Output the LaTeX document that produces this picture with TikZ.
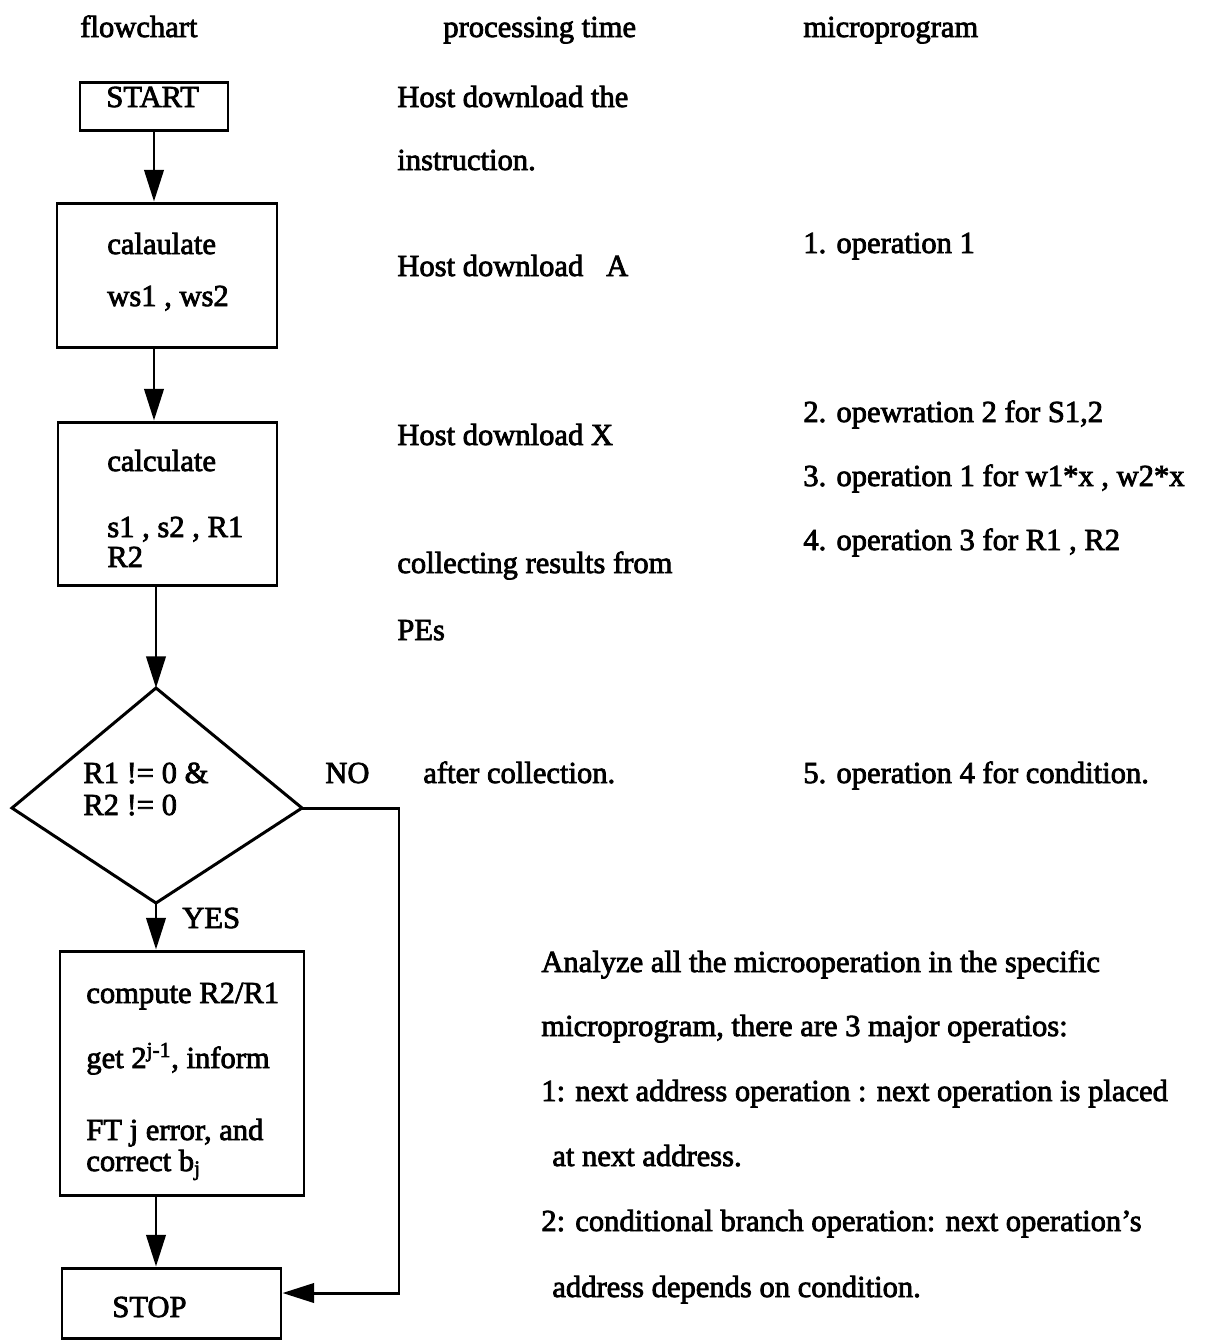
\documentclass[tikz,border=0pt]{standalone}
\usepackage{fontspec}
\setmainfont{Liberation Serif}[RawFeature={embolden=2.5}]
\usetikzlibrary{arrows.meta,fit}
\begin{document}
\begin{tikzpicture}[x=0.02cm,y=-0.02cm,
  box/.style={draw,line width=1.7pt,inner sep=0pt},
  txt/.style={anchor=base west,inner sep=0pt,font=\fontsize{17.4pt}{20pt}\selectfont},
  flow/.style={line width=1.7pt,-{Triangle[length=18pt,width=11pt]}},
  wire/.style={line width=1.7pt,line join=miter}]
\useasboundingbox (0,0) rectangle (1213,1340);

% column headings
\node[txt] (h1) at (80,37) {flowchart};
\node[txt] (h2) at (443,37) {processing time};
\node[txt] (h3) at (803,37) {microprogram};

% flowchart boxes
\node[box,fit={(80,82) (228,130)}] (start) {};
\node[box,fit={(57,203) (277,347)}] (calc1) {};
\node[box,fit={(58,422) (277,585)}] (calc2) {};
\node[box,fit={(60,951) (304,1195)}] (comp) {};
\node[box,fit={(62,1268) (281,1338)}] (stop) {};

% decision diamond
\coordinate (dtop) at (156,688);
\coordinate (dleft) at (12,808);
\coordinate (dright) at (302,808);
\coordinate (dbot) at (156,903);
\draw[wire] (dtop) -- (dright) -- (dbot) -- (dleft) -- cycle;
\coordinate (noturn) at (399,1000);

% box texts
\node[txt] (tstart) at (106,107) {START};
\node[txt] (tc1a) at (107,254) {calaulate};
\node[txt] (tc1b) at (107,306) {ws1 , ws2};
\node[txt] (tc2a) at (107,471) {calculate};
\node[txt] (tc2b) at (107,537) {s1 , s2 , R1};
\node[txt] (tc2c) at (107,567) {R2};
\node[txt] (td1) at (83,783) {R1 != 0 \&};
\node[txt] (td2) at (83,815) {R2 != 0};
\node[txt] (tno) at (325,783) {NO};
\node[txt] (tyes) at (182,928) {YES};
\node[txt] (tcp1) at (86,1003) {compute R2/R1};
\node[txt] (tcp2) at (86,1068) {get 2\textsuperscript{j-1}, inform};
\node[txt] (tcp3) at (86,1140) {FT j error, and};
\node[txt] (tcp4) at (86,1171) {correct b\textsubscript{j}};
\node[txt] (tstop) at (112,1317) {STOP};

% processing time column
\node[txt] (p1) at (397,107) {Host download the};
\node[txt] (p2) at (397,170) {instruction.};
\node[txt] (p3) at (397,276) {Host download\ \ \ A};
\node[txt] (p4) at (397,445) {Host download X};
\node[txt] (p5) at (397,573) {collecting results from};
\node[txt] (p6) at (397,640) {PEs};
\node[txt] (p7) at (423,783) {after collection.};

% microprogram column
\node[txt] (m1) at (803,253) {1. operation 1};
\node[txt] (m2) at (803,422) {2. opewration 2 for S1,2};
\node[txt] (m3) at (803,486) {3. operation 1 for w1*x , w2*x};
\node[txt] (m4) at (803,550) {4. operation 3 for R1 , R2};
\node[txt] (m5) at (803,783) {5. operation 4 for condition.};

% notes
\node[txt] (n1) at (541,972) {Analyze all the microoperation in the specific};
\node[txt] (n2) at (541,1036) {microprogram, there are 3 major operatios:};
\node[txt] (n3) at (541,1101) {1: next address operation : next operation is placed};
\node[txt] (n4) at (552,1166) {at next address.};
\node[txt] (n5) at (541,1231) {2: conditional branch operation: next operation’s};
\node[txt] (n6) at (552,1297) {address depends on condition.};

% connectors
\draw[flow] (start.south) -- (start.south |- calc1.north);
\draw[flow] (calc1.south -| start.south) -- (calc2.north -| start.south);
\draw[flow] (calc2.south -| dtop) -- (dtop);
\draw[flow] (dbot) -- (dbot |- comp.north);
\draw[flow] (comp.south -| dbot) -- (stop.north -| dbot);
\draw[flow,line join=miter] (dright) -| (noturn) |- ([yshift=0.2cm]stop.east);
\end{tikzpicture}
\end{document}
